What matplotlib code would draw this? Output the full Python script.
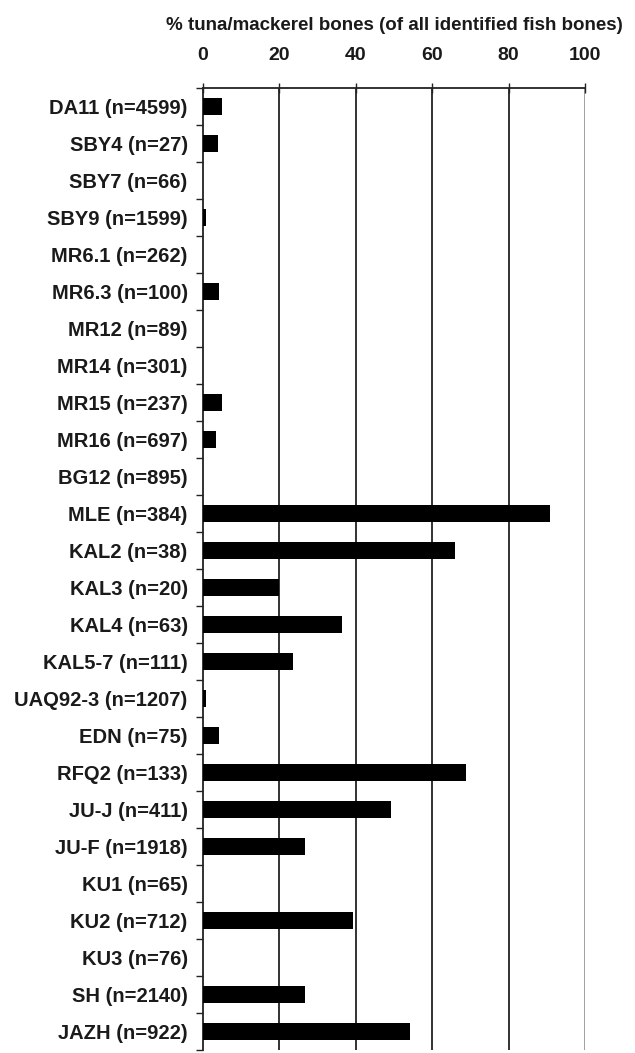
import numpy as np
import matplotlib.pyplot as plt
from matplotlib.ticker import FixedLocator

plt.rcParams['font.family'] = ['Liberation Sans', 'DejaVu Sans']
plt.rcParams['font.weight'] = 'bold'

sites = ["DA11 (n=4599)", "SBY4 (n=27)", "SBY7 (n=66)", "SBY9 (n=1599)",
         "MR6.1 (n=262)", "MR6.3 (n=100)", "MR12 (n=89)", "MR14 (n=301)",
         "MR15 (n=237)", "MR16 (n=697)", "BG12 (n=895)", "MLE (n=384)",
         "KAL2 (n=38)", "KAL3 (n=20)", "KAL4 (n=63)", "KAL5-7 (n=111)",
         "UAQ92-3 (n=1207)", "EDN (n=75)", "RFQ2 (n=133)", "JU-J (n=411)",
         "JU-F (n=1918)", "KU1 (n=65)", "KU2 (n=712)", "KU3 (n=76)",
         "SH (n=2140)", "JAZH (n=922)"]
pct_tuna = [5.0, 4.0, 0, 0.8, 0, 4.2, 0, 0, 5.0, 3.4, 0, 90.8,
            66.0, 20.0, 36.4, 23.6, 0.8, 4.2, 68.9, 49.3,
            26.7, 0, 39.3, 0, 26.7, 54.3]
xticks = [0, 20, 40, 60, 80, 100]

fig = plt.figure(figsize=(6.35, 10.53), dpi=100)
ax = fig.add_axes([0.3197, 0.0028, 0.6016, 0.9136])

y = np.arange(len(sites))
ax.barh(y, pct_tuna, height=0.45, color='black', zorder=3)

ax.set_xlim(0, 100)
ax.set_ylim(len(sites) - 0.5, -0.5)

# vertical grid lines
for xv in xticks[1:-1]:
    ax.axvline(xv, color='#222222', lw=1.3, zorder=1)
ax.axvline(100, color='#999999', lw=1.3, zorder=1)

ax.xaxis.tick_top()
ax.xaxis.set_label_position('top')
ax.set_xticks(xticks)
ax.set_xticklabels([str(v) for v in xticks], fontsize=14, fontweight='bold', color='#1a1a1a')
ax.tick_params(axis='x', direction='inout', length=7, width=1, pad=14, color='#222222')
ax.set_xlabel('% tuna/mackerel bones (of all identified fish bones)', fontsize=13.5,
              fontweight='bold', labelpad=12, color='#1a1a1a')

ax.set_yticks(y)
ax.set_yticklabels(sites, fontsize=14.5, fontweight='bold', color='#1a1a1a')
ax.tick_params(axis='y', which='major', length=0, pad=11)
ax.yaxis.set_minor_locator(FixedLocator(np.arange(len(sites) + 1) - 0.5))
ax.tick_params(axis='y', which='minor', direction='out', length=5, width=1, color='#222222')

for side in ['right', 'bottom']:
    ax.spines[side].set_visible(False)
ax.spines['top'].set_linewidth(1.3)
ax.spines['left'].set_linewidth(1.3)
ax.spines['top'].set_color('#222222')
ax.spines['left'].set_color('#222222')

fig.savefig('out.png', dpi=100)
